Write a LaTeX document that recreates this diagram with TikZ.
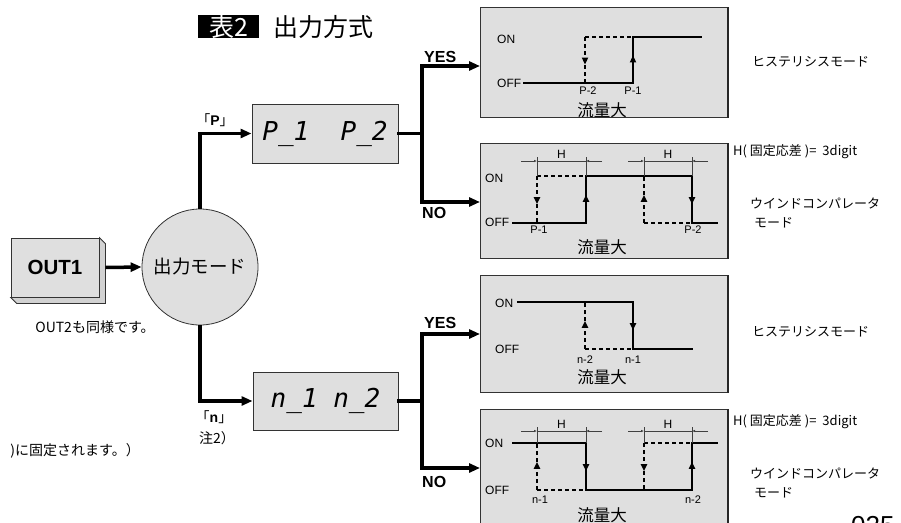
\documentclass[tikz,border=0pt]{standalone}
\usepackage{fontspec}
\setmainfont{Liberation Sans}
\newfontfamily\jp{Noto Sans CJK JP}
\newfontfamily\seg{DejaVu Sans Mono}
\usetikzlibrary{arrows.meta,calc,decorations.markings}
\newcommand\fs[1]{\fontsize{#1}{#1}\selectfont}

\begin{document}
\begin{tikzpicture}[x=1pt,y=-1pt,
  box/.style={draw=black!80,line width=0.8pt,fill=gray!25,inner sep=0pt},
  panel/.style={box,anchor=north west,minimum width=247pt},
  flow/.style={line width=3.5pt,-{Triangle[length=11pt,width=9pt]}},
  bus/.style={line width=3.5pt,line cap=rect},
  wave/.style={line width=1.8pt,line cap=rect},
  dwave/.style={line width=1.8pt,dash pattern=on 4pt off 3pt},
  dim/.style={line width=0.6pt,black!75},
  dimtip/.style={dim,-{Latex[length=3pt,width=2.5pt]}},
  midtip/.style={postaction={decorate},decoration={markings,
    mark=at position 0.6 with {\arrow{Triangle[length=7pt,width=6pt]}}}},
  lbl/.style={inner sep=0pt,font=\fs{12}},
  tiny/.style={inner sep=0pt,font=\fs{11}},
  jtxt/.style={inner sep=0pt,font=\jp\fs{#1}},
  yn/.style={inner sep=0pt,font=\bfseries\fs{16}}]
\useasboundingbox (0,0) rectangle (901,522);

% title
\node[fill=black,text=white,font=\jp\fs{25},minimum width=61pt,minimum height=23pt,inner sep=0pt] (tab) at (228.5,26.5) {表2};
\node[jtxt=25,anchor=west] (ttl) at (273,27) {出力方式};

% input and mode
\node[box,minimum width=88pt,minimum height=59pt,font=\bfseries\fs{20.5}] (out1) at (55,267.5) {OUT1};
\draw[box,fill=gray!35] (out1.north east) -- ++(6,6) -- ($(out1.south east)+(6,6)$) -- ($(out1.south west)+(6,6)$) -- (out1.south west) -- (out1.south east) -- cycle;
\node[jtxt=14] (same) at (95,327) {OUT2も同様です。};
\node[box,circle,minimum size=116pt,font=\jp\fs{18.5}] (mode) at (200,267) {出力モード};
\draw[flow] ($(out1.east)+(6,0)$) -- (mode.west);

% displays
\node[box,line width=1pt,minimum width=146pt,minimum height=59pt,font=\seg\itshape\fs{26}] (pbox) at (325,133.5) {P\_1~~P\_2};
\node[box,line width=1pt,minimum width=145pt,minimum height=58pt,font=\seg\itshape\fs{26}] (nbox) at (325.5,401) {n\_1~n\_2};
\draw[flow] (mode.north) |- (pbox.west);
\draw[flow] (mode.south) |- (nbox.west);
\node[jtxt=14] (plab) at (215,120) {「{\rmfamily\bfseries P}」};
\node[jtxt=14] (nlab) at (214,417) {「{\rmfamily\bfseries n}」};
\node[jtxt=14] (note2) at (217,438) {注2）};
\node[jtxt=14,anchor=east] (fixed) at (140,451) {)に固定されます。）};

% panels
\node[panel,minimum height=110pt] (g1) at (480,7) {};
\node[panel,minimum height=115pt] (g2) at (480,143) {};
\node[panel,minimum height=117pt] (g3) at (480,275) {};
\node[panel,minimum height=120pt] (g4) at (480,409) {};
\foreach \g in {g1,g2,g3,g4}
  \draw[line width=1.6pt,black!85] (\g.north east) -- (\g.south east);

% branches
\coordinate (pyes) at (422,66);
\coordinate (pno) at (422,202);
\coordinate (nyes) at (422,334);
\coordinate (nno) at (422,468);
\draw[bus] (pbox.east) -- (pbox.east -| pyes);
\draw[bus] (pyes) -- (pno);
\draw[flow] (pyes) -- (pyes -| g1.west);
\draw[flow] (pno) -- (pno -| g2.west);
\draw[bus] (nbox.east) -- (nbox.east -| nyes);
\draw[bus] (nyes) -- (nno);
\draw[flow] (nyes) -- (nyes -| g3.west);
\draw[flow] (nno) -- (nno -| g4.west);
\node[yn,anchor=south west] (py) at (424,63) {YES};
\node[yn,anchor=north west] (pn) at (422,207) {NO};
\node[yn,anchor=south west] (ny) at (424,329) {YES};
\node[yn,anchor=north west] (nn) at (422,476) {NO};

% panel 1: hysteresis P
\node[lbl,anchor=west] (on1) at (497,39) {ON};
\node[lbl,anchor=west] (off1) at (497,83) {OFF};
\draw[wave] (off1.east) ++(2,0) -- (633,83);
\draw[wave,midtip] (633,83) -- (633,37);
\draw[wave] (633,37) -- (701,37);
\draw[dwave,midtip] (585,37) -- (585,83);
\draw[dwave] (585,37) -- (633,37);
\node[tiny] (p2a) at (588,91) {P-2};
\node[tiny] (p1a) at (633,91) {P-1};
\node[jtxt=16.5] (fa) at (602,110) {流量大};

% panel 2: window P
\node[lbl,anchor=west] (on2) at (485,178) {ON};
\node[lbl,anchor=west] (off2) at (485,222) {OFF};
\draw[wave] (513,223) -- (586,223);
\draw[wave,midtip] (586,223) -- (586,176);
\draw[wave] (586,176) -- (692,176);
\draw[wave,midtip] (692,176) -- (692,223);
\draw[wave] (692,223) -- (717,223);
\draw[dwave,midtip] (537,176) -- (537,223);
\draw[dwave] (537,176) -- (586,176);
\draw[dwave,midtip] (644,223) -- (644,176);
\draw[dwave] (644,223) -- (692,223);
\foreach \a/\b in {537/586,644/692}{
  \draw[dim] (\a,157) -- (\a,176) (\b,157) -- (\b,176) (\a,161) -- (\b,161);
  \draw[dimtip] (\a-16,161) -- (\a,161);
  \draw[dimtip] (\b+16,161) -- (\b,161);
  \node[lbl] at ({(\a+\b)/2},154) {H};
}
\node[tiny] (p1b) at (539,230) {P-1};
\node[tiny] (p2b) at (693,230) {P-2};
\node[jtxt=16.5] (fb) at (602,247) {流量大};

% panel 3: hysteresis n
\node[lbl,anchor=west] (on3) at (495,303) {ON};
\node[lbl,anchor=west] (off3) at (495,349) {OFF};
\draw[wave] (518,302) -- (633,302);
\draw[wave,midtip] (633,302) -- (633,349);
\draw[wave] (633,349) -- (692,349);
\draw[dwave,midtip] (585,349) -- (585,302);
\draw[dwave] (585,349) -- (633,349);
\node[tiny] (n2a) at (585,360) {n-2};
\node[tiny] (n1a) at (633,360) {n-1};
\node[jtxt=16.5] (fc) at (602,377) {流量大};

% panel 4: window n
\node[lbl,anchor=west] (on4) at (485,443) {ON};
\node[lbl,anchor=west] (off4) at (485,490) {OFF};
\draw[wave] (513,443) -- (586,443);
\draw[wave,midtip] (586,443) -- (586,490);
\draw[wave] (586,490) -- (692,490);
\draw[wave,midtip] (692,490) -- (692,443);
\draw[wave] (692,443) -- (717,443);
\draw[dwave,midtip] (537,490) -- (537,443);
\draw[dwave] (537,490) -- (586,490);
\draw[dwave,midtip] (644,443) -- (644,490);
\draw[dwave] (644,443) -- (692,443);
\foreach \a/\b in {537/586,644/692}{
  \draw[dim] (\a,427) -- (\a,443) (\b,427) -- (\b,443) (\a,431) -- (\b,431);
  \draw[dimtip] (\a-16,431) -- (\a,431);
  \draw[dimtip] (\b+16,431) -- (\b,431);
  \node[lbl] at ({(\a+\b)/2},424) {H};
}
\node[tiny] (n1b) at (540,500) {n-1};
\node[tiny] (n2b) at (693,500) {n-2};
\node[jtxt=16.5] (fd) at (602,515) {流量大};

% mode names
\node[jtxt=13,anchor=west] (hys1) at (752,62) {ヒステリシスモード};
\node[jtxt=13,anchor=west] (hn1) at (733,152) {H( 固定応差 )=\hspace{6pt}3digit};
\node[jtxt=13,anchor=west] (win1) at (750,203) {ウインドコンパレータ};
\node[jtxt=13,anchor=west] (win1b) at (754,223) {モード};
\node[jtxt=13,anchor=west] (hys2) at (752,332) {ヒステリシスモード};
\node[jtxt=13,anchor=west] (hn2) at (733,422) {H( 固定応差 )=\hspace{6pt}3digit};
\node[jtxt=13,anchor=west] (win2) at (750,473) {ウインドコンパレータ};
\node[jtxt=13,anchor=west] (win2b) at (754,493) {モード};
\node[anchor=base west,inner sep=0pt,font=\fs{26}] (page) at (851,534) {025};
\end{tikzpicture}
\end{document}
